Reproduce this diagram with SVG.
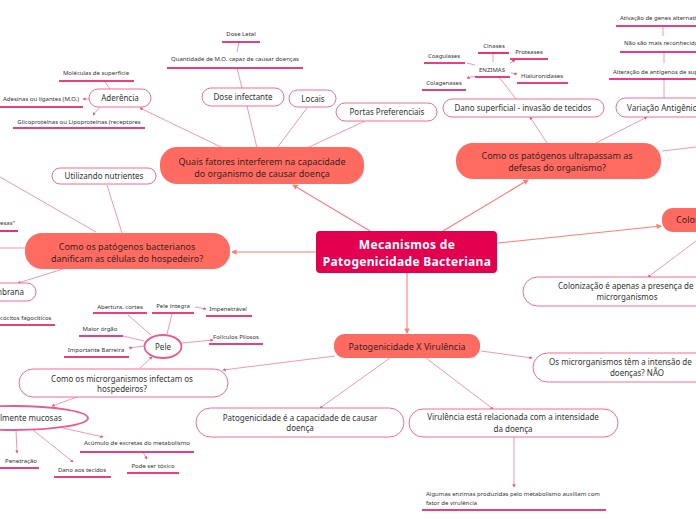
<svg xmlns="http://www.w3.org/2000/svg" width="696" height="520" viewBox="0 0 696 520">
<style>
text{font-family:"Noto Sans","DejaVu Sans",sans-serif;fill:#333}
.c{font-size:12px;font-weight:bold;fill:#fff;text-anchor:middle;letter-spacing:0.3px}
.m{font-size:9px;text-anchor:middle;fill:#3a2222}
.w{font-size:8px;text-anchor:middle}
.s{font-size:6px;text-anchor:middle}
.sl{font-size:6px}
.sal{fill:#ff6b61}
.wn{fill:#fff;stroke:#f06c95;stroke-width:1}
.el{fill:#fff;stroke:#ee5a8c;stroke-width:1.8}
.u{stroke:#e2004f;stroke-width:1.6;fill:none}
.k1{stroke:#ff7d75;stroke-width:1.1;fill:none}
.k2{stroke:#f27ba0;stroke-width:0.8;fill:none}
</style>
<defs>
<marker id="a1" viewBox="0 0 6 6" refX="5" refY="3" markerWidth="5" markerHeight="5" orient="auto"><path d="M0,0L6,3L0,6z" fill="#ff7d75"/></marker>
<marker id="a2" viewBox="0 0 6 6" refX="5" refY="3" markerWidth="4" markerHeight="4" orient="auto"><path d="M0,0L6,3L0,6z" fill="#ee4f82"/></marker>
</defs>
<g id="connectors">
<line class="k1" x1="370" y1="231" x2="293" y2="185" marker-end="url(#a1)"/>
<line class="k1" x1="443" y1="231" x2="528" y2="180" marker-end="url(#a1)"/>
<line class="k1" x1="316" y1="252" x2="232" y2="252" marker-end="url(#a1)"/>
<line class="k1" x1="498" y1="243" x2="661" y2="226" marker-end="url(#a1)"/>
<line class="k1" x1="407" y1="273" x2="407" y2="333" marker-end="url(#a1)"/>
<line class="k2" x1="257" y1="148" x2="247" y2="106"/>
<line class="k2" x1="277" y1="148" x2="307" y2="108"/>
<line class="k2" x1="307" y1="148" x2="365" y2="121"/>
<line class="k2" x1="223" y1="148" x2="140" y2="108" marker-end="url(#a2)"/>
<line class="k2" x1="242" y1="88" x2="237" y2="68"/>
<line class="k2" x1="237" y1="52" x2="239" y2="42"/>
<line class="k2" x1="110" y1="89" x2="105" y2="82"/>
<line class="k2" x1="89" y1="99" x2="83" y2="99" marker-end="url(#a2)"/>
<line class="k2" x1="100" y1="107" x2="93" y2="115" marker-end="url(#a2)"/>
<line class="k2" x1="547" y1="143" x2="530" y2="117" marker-end="url(#a2)"/>
<line class="k2" x1="596" y1="143" x2="647" y2="117" marker-end="url(#a2)"/>
<line class="k2" x1="662" y1="151" x2="696" y2="147"/>
<line class="k2" x1="516" y1="99" x2="499" y2="77"/>
<line class="k2" x1="493" y1="62" x2="493" y2="53"/>
<line class="k2" x1="510" y1="63" x2="515" y2="60" marker-end="url(#a2)"/>
<line class="k2" x1="511" y1="73" x2="517" y2="74" marker-end="url(#a2)"/>
<line class="k2" x1="475" y1="65" x2="467" y2="63"/>
<line class="k2" x1="475" y1="76" x2="467" y2="78" marker-end="url(#a2)"/>
<line class="k2" x1="664" y1="98" x2="664" y2="79"/>
<line class="k2" x1="664" y1="63" x2="664" y2="52"/>
<line class="k2" x1="663" y1="36" x2="663" y2="27"/>
<line class="k2" x1="122" y1="233" x2="107" y2="185"/>
<line class="k2" x1="96" y1="232" x2="0" y2="177"/>
<line class="k2" x1="25" y1="248" x2="0" y2="248"/>
<line class="k2" x1="63" y1="269" x2="18" y2="283" marker-end="url(#a2)"/>
<line class="k2" x1="696" y1="241" x2="648" y2="277" marker-end="url(#a2)"/>
<line class="k2" x1="335" y1="356" x2="223" y2="370" marker-end="url(#a2)"/>
<line class="k2" x1="390" y1="358" x2="320" y2="408" marker-end="url(#a2)"/>
<line class="k2" x1="426" y1="358" x2="493" y2="409" marker-end="url(#a2)"/>
<line class="k2" x1="481" y1="351" x2="532" y2="358" marker-end="url(#a2)"/>
<line class="k2" x1="514" y1="437" x2="514" y2="487" marker-end="url(#a2)"/>
<line class="k2" x1="140" y1="368" x2="152" y2="357" marker-end="url(#a2)"/>
<line class="k2" x1="77" y1="397" x2="52" y2="406" marker-end="url(#a2)"/>
<line class="k2" x1="151" y1="335" x2="128" y2="315"/>
<line class="k2" x1="167" y1="334" x2="172" y2="314"/>
<line class="k2" x1="195" y1="307" x2="206" y2="309" marker-end="url(#a2)"/>
<line class="k2" x1="144" y1="341" x2="123" y2="336"/>
<line class="k2" x1="144" y1="346" x2="129" y2="348" marker-end="url(#a2)"/>
<line class="k2" x1="182" y1="343" x2="213" y2="340" marker-end="url(#a2)"/>
<line class="k2" x1="16" y1="430" x2="17" y2="453" marker-end="url(#a2)"/>
<line class="k2" x1="33" y1="430" x2="73" y2="462" marker-end="url(#a2)"/>
<line class="k2" x1="63" y1="428" x2="103" y2="437" marker-end="url(#a2)"/>
<line class="k2" x1="143" y1="452" x2="147" y2="459" marker-end="url(#a2)"/>
</g>
<g id="center"><rect x="316" y="231" width="181" height="42" rx="4" fill="#e3004f"/><text class="c" x="407" y="249">Mecanismos de</text><text class="c" x="407" y="266">Patogenicidade Bacteriana</text></g>
<g id="quais"><rect class="sal" x="160" y="147" width="204" height="37" rx="17"/><text class="m" x="262" y="165">Quais fatores interferem na capacidade</text><text class="m" x="262" y="177">do organismo de causar doença</text></g>
<g id="ultrapassam"><rect class="sal" x="456" y="143" width="205" height="36" rx="17"/><text class="m" x="557" y="159">Como os patógenos ultrapassam as</text><text class="m" x="557" y="171">defesas do organismo?</text></g>
<g id="bacterianos"><rect class="sal" x="25" y="233" width="205" height="36" rx="17"/><text class="m" x="127" y="250">Como os patógenos bacterianos</text><text class="m" x="127" y="262">danificam as células do hospedeiro?</text></g>
<g id="colon"><rect class="sal" x="662" y="208" width="60" height="24" rx="11"/><text class="m" x="676" y="223" style="text-anchor:start">Colon</text></g>
<g id="patx"><rect class="sal" x="334" y="334" width="146" height="24" rx="11"/><text class="m" x="407" y="350">Patogenicidade X Virulência</text></g>
<g id="dose"><rect class="wn" x="202" y="88" width="82" height="18" rx="9"/><text class="w" x="243" y="100">Dose infectante</text></g>
<g id="locais"><rect class="wn" x="289" y="90" width="47" height="17" rx="8.5"/><text class="w" x="313" y="102">Locais</text></g>
<g id="portas"><rect class="wn" x="336" y="103" width="101" height="18" rx="9"/><text class="w" x="387" y="115">Portas Preferenciais</text></g>
<g id="aderencia"><rect class="wn" x="89" y="89" width="62" height="18" rx="9"/><text class="w" x="120" y="101">Aderência</text></g>
<g id="dano"><rect class="wn" x="443" y="99" width="161" height="18" rx="9"/><text class="w" x="523" y="111">Dano superficial - invasão de tecidos</text></g>
<g id="variacao"><rect class="wn" x="616" y="98" width="100" height="19" rx="9.5"/><text class="w" x="627" y="111" style="text-anchor:start">Variação Antigênica</text></g>
<g id="utilizando"><rect class="wn" x="52" y="168" width="104" height="16" rx="8"/><text class="w" x="104" y="179">Utilizando nutrientes</text></g>
<g id="membrana"><rect class="wn" x="-30" y="283" width="66" height="18" rx="9"/><text class="w" x="24" y="295" style="text-anchor:end">mbrana</text></g>
<g id="infectam"><rect class="wn" x="19" y="369" width="209" height="28" rx="14"/><text class="w" x="122" y="382">Como os microrganismos infectam os</text><text class="w" x="122" y="392">hospedeiros?</text></g>
<g id="pele"><ellipse class="el" cx="163" cy="346.5" rx="18.5" ry="11.5"/><text class="w" x="163" y="349.5">Pele</text></g>
<g id="mucosas"><ellipse class="el" cx="14" cy="418" rx="74" ry="12"/><text class="w" x="0" y="421" style="text-anchor:start">lmente mucosas</text></g>
<g id="patcap"><rect class="wn" x="196" y="408" width="208" height="29" rx="14.5"/><text class="w" x="300" y="421">Patogenicidade é a capacidade de causar</text><text class="w" x="300" y="431">doença</text></g>
<g id="virulencia"><rect class="wn" x="409" y="409" width="209" height="28" rx="14"/><text class="w" x="513" y="420">Virulência está relacionada com a intensidade</text><text class="w" x="513" y="432">da doença</text></g>
<g id="intensao"><rect class="wn" x="533" y="353" width="190" height="29" rx="14.5"/><text class="w" x="549" y="365" style="text-anchor:start">Os microrganismos têm a intensão de</text><text class="w" x="637" y="376">doenças? NÃO</text></g>
<g id="colonizacao"><rect class="wn" x="523" y="277" width="200" height="29" rx="14.5"/><text class="w" x="558" y="289" style="text-anchor:start">Colonização é apenas a presença de</text><text class="w" x="627" y="300">microrganismos</text></g>
<g id="doseletal"><text class="s" x="241" y="36">Dose Letal</text><line class="u" x1="222" y1="42" x2="260" y2="42"/></g>
<g id="quantidade"><text class="s" x="235" y="61">Quantidade de M.O. capaz de causar doenças</text><line class="u" x1="167" y1="68" x2="303" y2="68"/></g>
<g id="moleculas"><text class="s" x="96" y="75">Moléculas de superfície</text><line class="u" x1="59" y1="81" x2="134" y2="81"/></g>
<g id="adesinas"><text class="s" x="41" y="101">Adesinas ou ligantes (M.O.)</text><line class="u" x1="0" y1="107" x2="83" y2="107"/></g>
<g id="glico"><text class="s" x="79" y="124">Glicoproteínas ou Lipoproteínas (receptores</text><line class="u" x1="13" y1="128" x2="145" y2="128"/></g>
<g id="cinases"><text class="s" x="494" y="48">Cinases</text><line class="u" x1="478" y1="53" x2="509" y2="53"/></g>
<g id="proteases"><text class="s" x="529" y="54">Proteases</text><line class="u" x1="510" y1="59" x2="548" y2="59"/></g>
<g id="coagulases"><text class="s" x="444" y="58">Coagulases</text><line class="u" x1="424" y1="63" x2="465" y2="63"/></g>
<g id="enzimas"><text class="s" x="492" y="72">ENZIMAS</text><line class="u" x1="475" y1="77" x2="510" y2="77"/></g>
<g id="colagenases"><text class="s" x="444" y="85">Colagenases</text><line class="u" x1="422" y1="90" x2="466" y2="90"/></g>
<g id="hialuronidases"><text class="s" x="542" y="78">Hialuronidases</text><line class="u" x1="517" y1="83" x2="568" y2="83"/></g>
<g id="ativacao"><text class="sl" x="620" y="20">Ativação de genes alternativos</text><line class="u" x1="616" y1="26" x2="696" y2="26"/></g>
<g id="naosao"><text class="sl" x="624" y="45">Não são mais reconhecidos</text><line class="u" x1="620" y1="52" x2="696" y2="52"/></g>
<g id="alteracao"><text class="sl" x="613" y="74">Alteração de antígenos de superfície</text><line class="u" x1="609" y1="79" x2="696" y2="79"/></g>
<g id="esas"><text class="sl" x="15" y="225" style="text-anchor:end">esas"</text><line class="u" x1="0" y1="231" x2="18" y2="231"/></g>
<g id="cocitos"><text class="sl" x="0" y="320">cócitos fagocíticos</text><line class="u" x1="0" y1="325" x2="55" y2="325"/></g>
<g id="abertura"><text class="s" x="120" y="309">Abertura, cortes</text><line class="u" x1="93" y1="313" x2="147" y2="313"/></g>
<g id="peleintegra"><text class="s" x="173" y="308">Pele íntegra</text><line class="u" x1="152" y1="313" x2="194" y2="313"/></g>
<g id="impenetravel"><text class="s" x="228" y="311">Impenetrável</text><line class="u" x1="206" y1="316" x2="252" y2="316"/></g>
<g id="maiororgao"><text class="s" x="100" y="331">Maior órgão</text><line class="u" x1="79" y1="336" x2="123" y2="336"/></g>
<g id="foliculos"><text class="s" x="236" y="339">Folículos Pilosos</text><line class="u" x1="209" y1="344" x2="263" y2="344"/></g>
<g id="barreira"><text class="s" x="96" y="352">Importante Barreira</text><line class="u" x1="64" y1="357" x2="129" y2="357"/></g>
<g id="penetracao"><text class="s" x="21" y="463">Penetração</text><line class="u" x1="0" y1="468" x2="39" y2="468"/></g>
<g id="danotecidos"><text class="s" x="82" y="472">Dano aos tecidos</text><line class="u" x1="54" y1="477" x2="111" y2="477"/></g>
<g id="acumulo"><text class="s" x="137" y="445">Acúmulo de excretas do metabolismo</text><line class="u" x1="80" y1="452" x2="194" y2="452"/></g>
<g id="toxico"><text class="s" x="153" y="468">Pode ser tóxico</text><line class="u" x1="127" y1="473" x2="179" y2="473"/></g>
<g id="algumas"><text class="sl" x="426" y="496">Algumas enzimas produzidas pelo metabolismo auxiliam com</text><text class="sl" x="426" y="505">fator de virulência</text><line class="u" x1="422" y1="510" x2="606" y2="510"/></g>
</svg>
